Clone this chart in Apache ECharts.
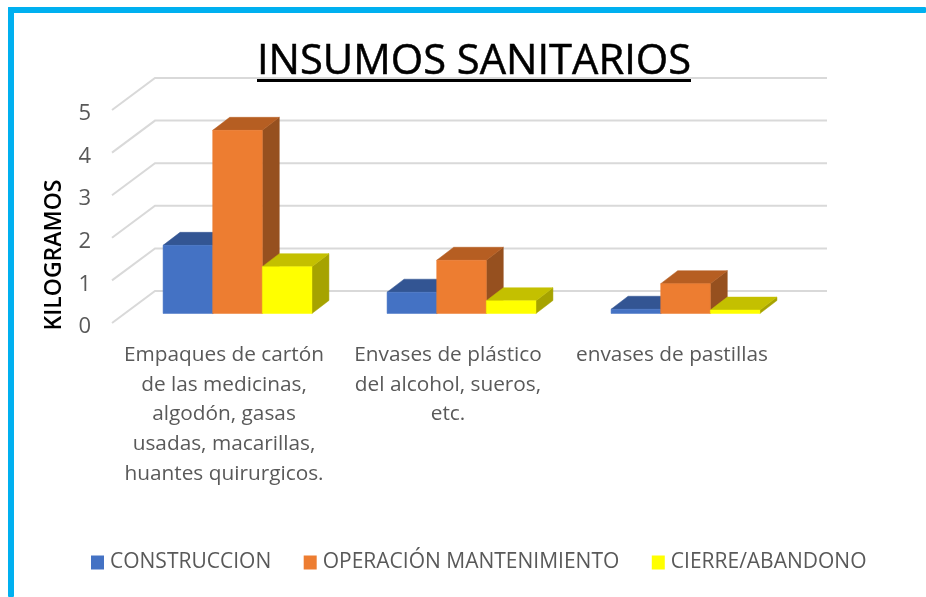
<!DOCTYPE html>
<html>
<head>
<meta charset="utf-8">
<style>html,body{margin:0;padding:0;background:#fff}#c{width:926px;height:597px}</style>
<script src="https://cdn.jsdelivr.net/npm/echarts@6/dist/echarts.min.js"></script>
</head>
<body>
<div id="c"></div>
<script>
const categories = [
  "Empaques de cartón\nde las medicinas,\nalgodón, gasas\nusadas, macarillas,\nhuantes quirurgicos.",
  "Envases de plástico\ndel alcohol, sueros,\netc.",
  "envases de pastillas\n\n\n\n"
];
const yTicks = [0, 1, 2, 3, 4, 5];
const construccion = [1.6, 0.5, 0.1];
const operacion = [4.3, 1.25, 0.7];
const cierre = [1.1, 0.3, 0.08];
const seriesNames = ["CONSTRUCCION", "OPERACIÓN MANTENIMIENTO", "CIERRE/ABANDONO"];
const titleText = "INSUMOS SANITARIOS";
const yName = "KILOGRAMOS";

const FONT = '"Open Sans"';
const palette = [
  {front: "#4472c4", top: "#335593", side: "#2b4a84"},
  {front: "#ed7d31", top: "#b65e22", side: "#96501f"},
  {front: "#ffff00", top: "#c4c000", side: "#a6a300"}
];
const WALL_DX = 43, WALL_DY = 32;      // floor depth of the 3D frame
const BAR_OFF_X = 13.5, BAR_OFF_Y = 9.5; // bar front plane relative to the frame front
const BAR_DX = 17, BAR_DY = 13;        // bar depth
const BAR_FRAC = 0.2215;

function gridRender(params, api) {
  const cs = params.coordSys;
  const p = api.coord([0, api.value(0)]);
  const y = p[1], x0 = cs.x, x1 = cs.x + cs.width + WALL_DX;
  return {
    type: "polyline",
    shape: {points: [[x0, y], [x0 + WALL_DX, y - WALL_DY], [x1, y - WALL_DY]]},
    style: {stroke: "#d9d9d9", lineWidth: 2, fill: null}
  };
}

function barRender(idx) {
  return function (params, api) {
    const cat = api.value(0), val = api.value(1);
    const c0 = api.coord([cat, 0]), c1 = api.coord([cat, val]);
    const w = api.size([1, 0])[0] * BAR_FRAC;
    const x0 = c0[0] + BAR_OFF_X + (idx - 1.5) * w, x1 = x0 + w;
    const yb = c0[1] - BAR_OFF_Y, yt = c1[1] - BAR_OFF_Y;
    const col = palette[idx];
    const poly = (pts, fill) => ({type: "polygon", shape: {points: pts}, style: {fill: fill, stroke: fill, lineWidth: 0.5}});
    return {
      type: "group",
      children: [
        poly([[x1, yb], [x1 + BAR_DX, yb - BAR_DY], [x1 + BAR_DX, yt - BAR_DY], [x1, yt]], col.side),
        poly([[x0, yt], [x0 + BAR_DX, yt - BAR_DY], [x1 + BAR_DX, yt - BAR_DY], [x1, yt]], col.top),
        poly([[x0, yb], [x1, yb], [x1, yt], [x0, yt]], col.front)
      ]
    };
  };
}

const allValues = [construccion, operacion, cierre];
const chart = echarts.init(document.getElementById("c"), null, {renderer: "canvas"});
chart.setOption({
  animation: false,
  backgroundColor: "#ffffff",
  textStyle: {fontFamily: FONT},
  title: {
    text: titleText,
    left: 469, top: 36, textAlign: "center",
    textStyle: {fontFamily: FONT, fontSize: 41.7, fontWeight: "normal", color: "#000000",
      textBorderColor: "#000000", textBorderWidth: 0.5}
  },
  legend: {
    left: 86, top: 547,
    itemWidth: 13, itemHeight: 14, itemGap: 32.5,
    icon: "rect",
    data: seriesNames,
    textStyle: {fontFamily: FONT, fontSize: 21, color: "#595959", padding: [0, 0, 0, 1]}
  },
  grid: {left: 112, right: 142, top: 110, height: 213},
  xAxis: {
    type: "category",
    data: categories,
    axisLine: {show: false},
    axisTick: {show: false},
    splitLine: {show: false},
    axisLabel: {
      interval: 0, margin: 17, lineHeight: 29.8,
      fontFamily: FONT, fontSize: 20.8, color: "#595959"
    }
  },
  yAxis: {
    type: "value", min: 0, max: 5, interval: 1,
    axisLine: {show: false},
    axisTick: {show: false},
    splitLine: {show: false},
    axisLabel: {margin: 21, fontFamily: FONT, fontSize: 22, color: "#595959", verticalAlign: "top", lineHeight: 8}
  },
  graphic: [
    {type: "rect", z: 100, shape: {x: 8, y: 7, width: 918, height: 6, r: 1}, style: {fill: "#00b0f0"}},
    {type: "rect", z: 100, shape: {x: 8, y: 7, width: 6, height: 590, r: 1}, style: {fill: "#00b0f0"}},
    {type: "rect", z: 100, shape: {x: 257, y: 79, width: 434, height: 3}, style: {fill: "#000000"}},
    {type: "text", z: 100, x: 54, y: 255, rotation: Math.PI / 2, style: {
      text: yName, fontFamily: FONT, fontSize: 23, fontWeight: 600, fill: "#000000",
      align: "center", verticalAlign: "middle"
    }}
  ],
  series: [
    {type: "custom", name: "grid", coordinateSystem: "cartesian2d", silent: true, clip: false,
     data: yTicks.map(v => [v]), encode: {y: 0}, renderItem: gridRender, z: 1}
  ].concat(seriesNames.map((name, i) => ({
    type: "custom",
    name: name,
    coordinateSystem: "cartesian2d",
    clip: false,
    z: 2 + i,
    itemStyle: {color: palette[i].front},
    encode: {x: 0, y: 1},
    data: allValues[i].map((v, j) => [j, v]),
    renderItem: barRender(i)
  })))
});
</script>
</body>
</html>
